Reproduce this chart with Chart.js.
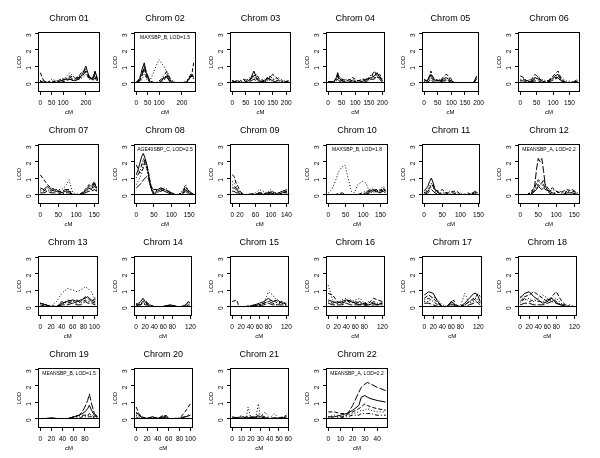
<!DOCTYPE html>
<html>
<head>
<meta charset="utf-8">
<script src="https://cdn.jsdelivr.net/npm/chart.js@4.4.1/dist/chart.umd.min.js"></script>
<style>
  body { margin: 0; background: #fff; width: 600px; height: 458px; position: relative; overflow: hidden; }
  canvas { position: absolute; }
</style>
</head>
<body>
<script>
// LOD scores per chromosome, one row per phenotype
const chr01Pos = [0, 15, 30, 50, 70, 90, 110, 130, 150, 170, 185, 200, 215, 230, 240, 252];
const chr01Lod = [
  [0.1, 0, 0, 0, 0, 0.1, 0.2, 0.2, 0.1, 0.2, 0.5, 1.0, 0.3, 0.2, 0.7, 0.2],
  [0.6, 0.1, 0, 0.1, 0, 0.2, 0.2, 0.3, 0.2, 0.4, 0.7, 0.6, 0.2, 0.3, 0.6, 0.1],
  [0.1, 0, 0, 0.2, 0.1, 0.2, 0.3, 0.6, 0.3, 0.2, 0.3, 0.5, 0.2, 0.2, 0.4, 0.1],
  [0.1, 0.1, 0, 0, 0.1, 0.1, 0.2, 0.4, 0.3, 0.3, 0.6, 0.8, 0.3, 0.2, 0.5, 0.2],
  [0.05, 0, 0, 0, 0, 0, 0.1, 0.2, 0.1, 0.3, 0.4, 0.7, 0.4, 0.1, 0.3, 0]
];
const chr01Ticks = [0, 50, 100, 200];

const chr02Pos = [0, 15, 25, 35, 45, 60, 75, 90, 100, 110, 125, 135, 150, 170, 200, 220, 235, 245, 252];
const chr02Lod = [
  [0, 0.2, 0.8, 1.2, 0.5, 0, 0, 0, 0, 0.1, 0.3, 0.4, 0, 0, 0, 0, 0.3, 0.5, 0.3],
  [0, 0.3, 0.6, 0.9, 0.3, 0, 0, 0, 0, 0, 0.2, 0.5, 0.1, 0, 0, 0, 0.4, 0.6, 1.2],
  [0, 0, 0.2, 0.5, 0.2, 0.1, 0.6, 1.1, 1.4, 1.2, 0.9, 0.6, 0.1, 0, 0, 0.1, 0.3, 0.4, 0.2],
  [0, 0.1, 0.5, 0.8, 0.4, 0.1, 0, 0, 0.1, 0.2, 0.5, 0.7, 0.2, 0, 0, 0, 0.2, 0.5, 0.4],
  [0, 0.1, 0.4, 1.0, 0.6, 0.1, 0, 0, 0, 0.1, 0.4, 0.3, 0, 0, 0, 0, 0.3, 0.4, 0.2]
];
const chr02Ticks = [0, 50, 100, 200];

const chr03Pos = [0, 20, 40, 60, 70, 80, 90, 100, 120, 130, 140, 150, 170, 190, 210];
const chr03Lod = [
  [0.1, 0, 0, 0.1, 0.3, 0.7, 0.3, 0.1, 0, 0.3, 0.2, 0.1, 0, 0, 0.1],
  [0.1, 0, 0.2, 0.1, 0.2, 0.4, 0.5, 0.2, 0.1, 0.2, 0.3, 0.5, 0.2, 0, 0],
  [0, 0, 0.1, 0.2, 0.4, 0.3, 0.2, 0.1, 0.2, 0.1, 0.2, 0.2, 0.3, 0.1, 0.1],
  [0.1, 0.1, 0, 0, 0.2, 0.5, 0.2, 0.1, 0, 0.2, 0.4, 0.2, 0.1, 0.1, 0],
  [0.05, 0, 0, 0, 0.1, 0.2, 0.1, 0, 0.1, 0.3, 0.1, 0, 0, 0, 0.1]
];
const chr03Ticks = [0, 50, 100, 150, 200];

const chr04Pos = [0, 20, 30, 35, 40, 50, 70, 90, 110, 130, 145, 160, 170, 180, 190, 200];
const chr04Lod = [
  [0.05, 0.05, 0.3, 0.6, 0.3, 0.1, 0, 0.1, 0, 0.1, 0.2, 0.3, 0.4, 0.6, 0.3, 0.1],
  [0.05, 0.05, 0.2, 0.4, 0.2, 0.2, 0.1, 0.3, 0.1, 0.2, 0.1, 0.4, 0.7, 0.4, 0.5, 0.2],
  [0, 0, 0.1, 0.3, 0.4, 0.2, 0.1, 0.2, 0, 0.1, 0.3, 0.2, 0.3, 0.5, 0.3, 0.1],
  [0.05, 0, 0.2, 0.5, 0.2, 0.1, 0.2, 0.1, 0.1, 0.2, 0.2, 0.5, 0.3, 0.3, 0.4, 0],
  [0, 0, 0.1, 0.2, 0.1, 0, 0, 0, 0, 0, 0.1, 0.2, 0.2, 0.4, 0.2, 0]
];
const chr04Ticks = [0, 50, 100, 150, 200];

const chr05Pos = [0, 10, 20, 25, 30, 40, 55, 70, 80, 90, 100, 110, 150, 182, 193];
const chr05Lod = [
  [0.1, 0.1, 0.3, 0.5, 0.3, 0.1, 0.1, 0.2, 0.3, 0.2, 0.1, 0, 0, 0, 0.4],
  [0.2, 0.1, 0.4, 0.7, 0.4, 0.2, 0.1, 0.3, 0.5, 0.4, 0.2, 0, 0, 0, 0.3],
  [0, 0.05, 0.2, 0.3, 0.2, 0.1, 0.2, 0.1, 0.2, 0.3, 0.1, 0, 0, 0, 0.1],
  [0.1, 0.05, 0.3, 0.4, 0.2, 0.2, 0.1, 0.1, 0.2, 0.1, 0.1, 0, 0, 0, 0.2],
  [0, 0, 0.1, 0.2, 0.1, 0, 0, 0.1, 0.1, 0.1, 0, 0, 0, 0, 0]
];
const chr05Ticks = [0, 50, 100, 150, 200];

const chr06Pos = [0, 10, 20, 35, 45, 55, 65, 80, 95, 105, 115, 125, 140, 160, 175];
const chr06Lod = [
  [0.1, 0.1, 0, 0.1, 0.3, 0.2, 0.1, 0, 0.2, 0.4, 0.5, 0.1, 0, 0, 0.1],
  [0.4, 0.3, 0.1, 0.2, 0.5, 0.3, 0.1, 0, 0.3, 0.5, 0.7, 0.2, 0, 0, 0.2],
  [0.2, 0.2, 0.1, 0.2, 0.3, 0.4, 0.2, 0.1, 0.2, 0.3, 0.4, 0.3, 0.1, 0.05, 0.1],
  [0.1, 0.2, 0.05, 0.1, 0.2, 0.3, 0.1, 0, 0.1, 0.3, 0.3, 0.1, 0, 0, 0.05],
  [0, 0, 0, 0.05, 0.1, 0.1, 0, 0, 0.1, 0.2, 0.3, 0.05, 0, 0, 0]
];
const chr06Ticks = [0, 50, 100, 150];

const chr07Pos = [0, 10, 20, 30, 40, 50, 60, 70, 80, 90, 110, 125, 135, 142, 150, 157];
const chr07Lod = [
  [0.4, 0.3, 0.5, 0.3, 0.2, 0.2, 0.1, 0.2, 0.2, 0, 0, 0.2, 0.4, 0.3, 0.7, 0.4],
  [1.2, 0.9, 0.6, 0.4, 0.3, 0.2, 0.2, 0.3, 0.2, 0, 0, 0.3, 0.6, 0.5, 0.8, 0.3],
  [0.2, 0.3, 0.2, 0.4, 0.3, 0.3, 0.3, 0.5, 0.9, 0.1, 0, 0.1, 0.3, 0.5, 0.6, 0.2],
  [0.3, 0.2, 0.4, 0.2, 0.3, 0.2, 0.1, 0.3, 0.3, 0, 0, 0.2, 0.5, 0.3, 0.5, 0.4],
  [0.1, 0.1, 0.2, 0.1, 0.1, 0.1, 0, 0.1, 0.1, 0, 0, 0.1, 0.2, 0.2, 0.3, 0.2]
];
const chr07Ticks = [0, 50, 100, 150];

const chr08Pos = [0, 5, 10, 15, 20, 25, 30, 35, 40, 45, 50, 60, 70, 80, 90, 100, 110, 120, 130, 140, 150, 163];
const chr08Lod = [
  [1.2, 1.5, 1.9, 2.3, 2.5, 2.2, 1.8, 1.2, 0.6, 0.2, 0, 0.2, 0.3, 0.2, 0.1, 0, 0, 0, 0, 0.3, 0.1, 0],
  [1.8, 1.6, 1.3, 1.4, 1.6, 2.1, 1.8, 1.3, 0.7, 0.3, 0.1, 0.3, 0.4, 0.3, 0.2, 0.1, 0, 0, 0.1, 0.4, 0.2, 0],
  [0.6, 0.8, 1.0, 1.3, 2.0, 1.9, 1.5, 1.0, 0.5, 0.2, 0.1, 0.2, 0.2, 0.4, 0.3, 0.1, 0, 0, 0.2, 0.6, 0.1, 0],
  [1.0, 1.2, 1.4, 1.8, 2.2, 2.0, 1.6, 1.1, 0.5, 0.1, 0, 0.1, 0.2, 0.3, 0.2, 0, 0, 0, 0.1, 0.5, 0.2, 0],
  [0.4, 0.5, 0.6, 0.7, 0.9, 1.0, 1.1, 0.9, 0.6, 0.4, 0.3, 0.3, 0.4, 0.3, 0.2, 0.1, 0, 0, 0, 0.2, 0, 0]
];
const chr08Ticks = [0, 50, 100, 150];

const chr09Pos = [0, 5, 10, 15, 20, 30, 40, 50, 60, 70, 80, 90, 100, 110, 120, 130, 142];
const chr09Lod = [
  [0.4, 0.4, 0.3, 0.2, 0, 0, 0, 0.05, 0, 0.1, 0, 0.1, 0.1, 0, 0.1, 0.2, 0.3],
  [1.2, 1.1, 0.7, 0.5, 0.2, 0, 0, 0, 0, 0.1, 0, 0, 0.2, 0.1, 0, 0.1, 0.2],
  [0.8, 0.7, 0.5, 0.3, 0.1, 0, 0, 0, 0.1, 0.3, 0.2, 0.1, 0.3, 0.1, 0.1, 0.2, 0.1],
  [0.6, 0.5, 0.4, 0.3, 0.1, 0, 0, 0, 0, 0.1, 0.1, 0, 0.2, 0, 0, 0.1, 0.2],
  [0.2, 0.2, 0.1, 0.1, 0, 0, 0, 0, 0, 0, 0, 0, 0.1, 0, 0, 0.1, 0.1]
];
const chr09Ticks = [0, 20, 60, 100, 140];

const chr10Pos = [0, 10, 20, 30, 40, 48, 56, 66, 75, 85, 98, 108, 118, 128, 138, 148, 158, 165];
const chr10Lod = [
  [0, 0, 0, 0, 0, 0, 0, 0, 0, 0, 0, 0, 0.1, 0.3, 0.2, 0.1, 0.3, 0.2],
  [0, 0, 0, 0.05, 0.1, 0, 0, 0, 0, 0, 0, 0.1, 0.3, 0.2, 0.3, 0.2, 0.4, 0.2],
  [0.1, 0.3, 0.8, 1.4, 1.7, 1.8, 1.1, 0.2, 0.1, 0.6, 0.8, 0.7, 0.2, 0.1, 0.2, 0.3, 0.5, 0.3],
  [0, 0, 0, 0, 0, 0, 0, 0, 0, 0, 0.1, 0.2, 0.2, 0.4, 0.1, 0.3, 0.2, 0.4],
  [0, 0, 0, 0, 0, 0, 0, 0, 0, 0, 0, 0, 0.2, 0.2, 0.3, 0.1, 0.2, 0.1]
];
const chr10Ticks = [0, 50, 100, 150];

const chr11Pos = [0, 10, 15, 20, 25, 30, 40, 50, 60, 70, 80, 90, 100, 110, 120, 130, 140, 148];
const chr11Lod = [
  [0.2, 0.5, 0.8, 1.0, 0.7, 0.3, 0.1, 0, 0, 0, 0, 0, 0, 0, 0, 0, 0.1, 0.1],
  [0.1, 0.2, 0.4, 0.6, 0.5, 0.3, 0.2, 0.3, 0.1, 0.1, 0.2, 0.2, 0, 0, 0.1, 0, 0.2, 0.2],
  [0.1, 0.3, 0.5, 0.7, 0.4, 0.2, 0.1, 0.1, 0.1, 0.2, 0.1, 0.1, 0.1, 0, 0, 0.1, 0.1, 0],
  [0, 0.2, 0.3, 0.5, 0.6, 0.3, 0.1, 0, 0.1, 0, 0.1, 0, 0, 0, 0, 0, 0.1, 0.2],
  [0, 0.1, 0.2, 0.3, 0.2, 0.1, 0, 0, 0, 0, 0, 0, 0, 0, 0, 0, 0, 0]
];
const chr11Ticks = [0, 50, 100, 150];

const chr12Pos = [0, 20, 30, 40, 45, 50, 55, 60, 65, 70, 80, 90, 100, 110, 120, 130, 145, 160];
const chr12Lod = [
  [0, 0, 0, 0.2, 0.3, 0.5, 0.4, 0.3, 0.4, 0.3, 0.2, 0.1, 0, 0, 0, 0.1, 0.1, 0],
  [0, 0, 0.2, 0.4, 0.7, 0.9, 0.8, 0.7, 0.9, 0.6, 0.3, 0.4, 0.2, 0.1, 0.2, 0.3, 0.2, 0.1],
  [0, 0, 0.1, 0.3, 0.5, 0.8, 0.7, 0.6, 0.5, 0.4, 0.2, 0.1, 0.1, 0.2, 0.1, 0.2, 0.1, 0],
  [0, 0, 0.1, 0.2, 0.4, 0.6, 0.5, 0.7, 0.6, 0.3, 0.2, 0.3, 0.2, 0.1, 0, 0.2, 0.3, 0.1],
  [0, 0, 0, 0.5, 1.5, 2.2, 2.0, 2.2, 1.4, 0.5, 0.1, 0, 0, 0, 0, 0, 0, 0]
];
const chr12Ticks = [0, 50, 100, 150];

const chr13Pos = [0, 10, 20, 30, 40, 50, 60, 68, 75, 83, 88, 94, 102];
const chr13Lod = [
  [0.2, 0.1, 0, 0, 0.2, 0.3, 0.4, 0.3, 0.4, 0.5, 0.6, 0.4, 0.3],
  [0.2, 0.1, 0, 0, 0.1, 0.4, 0.3, 0.2, 0.3, 0.6, 0.5, 0.3, 0.5],
  [0.2, 0.1, 0, 0.3, 0.8, 1.1, 1.0, 0.9, 1.0, 1.2, 1.1, 0.9, 0.4],
  [0.2, 0.1, 0.05, 0, 0.3, 0.2, 0.3, 0.4, 0.2, 0.4, 0.3, 0.3, 0.2],
  [0.1, 0, 0, 0, 0.1, 0.1, 0.2, 0.1, 0.1, 0.3, 0.2, 0.2, 0.1]
];
const chr13Ticks = [0, 20, 40, 60, 80, 100];

const chr14Pos = [0, 5, 10, 15, 20, 25, 30, 40, 60, 75, 90, 100, 110, 115, 119];
const chr14Lod = [
  [0.1, 0.2, 0.3, 0.5, 0.3, 0.1, 0, 0, 0, 0.1, 0, 0, 0.1, 0.3, 0.2],
  [0.1, 0.1, 0.2, 0.3, 0.4, 0.2, 0.1, 0, 0, 0.05, 0, 0, 0, 0.1, 0.1],
  [0.2, 0.1, 0.2, 0.2, 0.2, 0.1, 0.1, 0, 0, 0, 0, 0, 0.1, 0.2, 0.3],
  [0.1, 0.1, 0.1, 0.3, 0.2, 0.2, 0.1, 0, 0, 0.1, 0, 0, 0, 0.1, 0],
  [0, 0.1, 0.1, 0.2, 0.1, 0.1, 0, 0, 0, 0, 0, 0, 0, 0, 0]
];
const chr14Ticks = [0, 20, 40, 60, 80, 120];

const chr15Pos = [0, 10, 15, 30, 40, 50, 60, 70, 80, 90, 100, 110, 120];
const chr15Lod = [
  [0, 0, 0, 0, 0, 0.1, 0.2, 0.3, 0.5, 0.3, 0.4, 0.2, 0.2],
  [0.3, 0.4, 0, 0, 0.05, 0.1, 0.1, 0.2, 0.3, 0.4, 0.2, 0.3, 0.1],
  [0, 0, 0, 0, 0.05, 0.05, 0.1, 0.2, 0.9, 0.7, 0.3, 0.2, 0.1],
  [0, 0, 0, 0, 0, 0.05, 0.1, 0.2, 0.3, 0.2, 0.1, 0.3, 0.2],
  [0, 0, 0, 0, 0, 0, 0.05, 0.1, 0.2, 0.1, 0.1, 0.1, 0.05]
];
const chr15Ticks = [0, 20, 40, 60, 80, 120];

const chr16Pos = [0, 10, 20, 30, 40, 50, 60, 70, 80, 90, 100, 110, 120];
const chr16Lod = [
  [0.4, 0.3, 0.2, 0.3, 0.4, 0.3, 0.2, 0.1, 0.2, 0.1, 0.2, 0.1, 0.2],
  [0.8, 0.7, 0.3, 0.2, 0.3, 0.4, 0.2, 0.3, 0.1, 0.2, 0.5, 0.4, 0.3],
  [1.3, 0.4, 0.2, 0.4, 0.5, 0.3, 0.4, 0.5, 0.2, 0.3, 0.2, 0.1, 0.3],
  [0.3, 0.2, 0.3, 0.2, 0.4, 0.2, 0.3, 0.2, 0.2, 0.1, 0.3, 0.2, 0.2],
  [0.2, 0.1, 0.1, 0.1, 0.2, 0.1, 0.1, 0.1, 0.1, 0, 0.1, 0.1, 0.1]
];
const chr16Ticks = [0, 20, 40, 60, 80, 120];

const chr17Pos = [0, 10, 20, 30, 40, 50, 60, 65, 70, 80, 90, 100, 110, 115, 120, 124];
const chr17Lod = [
  [0.7, 0.9, 0.8, 0.3, 0, 0, 0.3, 0.2, 0, 0, 0.2, 0.5, 0.8, 0.8, 0.6, 0.3],
  [0.5, 0.7, 0.5, 0.2, 0, 0, 0.2, 0.4, 0.1, 0, 0.1, 0.3, 0.5, 0.6, 0.8, 0.6],
  [0.3, 0.3, 0.6, 0.4, 0.1, 0, 0.1, 0.2, 0.1, 0, 0.8, 0.2, 0.3, 0.4, 0.3, 0.2],
  [0.4, 0.5, 0.3, 0.1, 0, 0, 0.3, 0.1, 0, 0, 0.1, 0.3, 0.4, 0.5, 0.4, 0.2],
  [0.2, 0.2, 0.1, 0, 0, 0, 0.1, 0.1, 0, 0, 0, 0.1, 0.2, 0.3, 0.2, 0.1]
];
const chr17Ticks = [0, 20, 40, 60, 80, 120];

const chr18Pos = [0, 10, 20, 30, 40, 50, 60, 70, 80, 90, 100, 110, 120];
const chr18Lod = [
  [0.5, 0.8, 0.9, 0.6, 0.4, 0.2, 0.3, 0.5, 0.2, 0.1, 0, 0, 0],
  [0.3, 0.6, 0.7, 0.9, 0.7, 0.5, 0.3, 0.6, 0.9, 0.4, 0.1, 0, 0],
  [0.6, 0.4, 0.5, 0.3, 0.5, 0.7, 0.5, 0.3, 0.5, 0.2, 0, 0.1, 0],
  [0.2, 0.5, 0.3, 0.4, 0.3, 0.3, 0.4, 0.5, 0.3, 0.1, 0.1, 0, 0],
  [0.1, 0.2, 0.2, 0.1, 0.1, 0.1, 0.2, 0.3, 0.2, 0.1, 0, 0, 0]
];
const chr18Ticks = [0, 20, 40, 60, 80, 120];

const chr19Pos = [0, 10, 20, 30, 40, 50, 60, 70, 75, 80, 85, 88, 92, 97, 103];
const chr19Lod = [
  [0, 0, 0.05, 0, 0, 0, 0.1, 0.2, 0.3, 0.4, 0.6, 0.8, 0.5, 0.2, 0.1],
  [0, 0, 0, 0, 0, 0, 0.1, 0.2, 0.2, 0.2, 0.2, 0.3, 0.2, 0.1, 0.2],
  [0, 0, 0, 0, 0, 0, 0.05, 0.1, 0.1, 0.2, 0.2, 0.2, 0.1, 0.05, 0.1],
  [0, 0, 0, 0, 0, 0, 0, 0, 0.1, 0.1, 0.1, 0.1, 0.1, 0, 0],
  [0, 0, 0, 0, 0, 0, 0.1, 0.2, 0.4, 0.7, 1.1, 1.5, 0.9, 0.3, 0.1]
];
const chr19Ticks = [0, 20, 40, 60, 80];

const chr20Pos = [0, 5, 10, 20, 30, 40, 50, 55, 60, 70, 80, 90, 100];
const chr20Lod = [
  [0.4, 0.2, 0.1, 0, 0.1, 0, 0.1, 0.2, 0, 0, 0, 0.1, 0.2],
  [0.7, 0.3, 0.1, 0, 0.1, 0, 0.2, 0.1, 0, 0, 0, 0.4, 0.9],
  [0.2, 0.1, 0, 0, 0.05, 0, 0.1, 0.1, 0, 0, 0, 0.1, 0.3],
  [0.3, 0.2, 0.05, 0, 0.1, 0, 0.1, 0, 0, 0, 0.05, 0.1, 0.1],
  [0.1, 0, 0, 0, 0, 0, 0.05, 0, 0, 0, 0, 0, 0]
];
const chr20Ticks = [0, 20, 40, 60, 80, 100];

const chr21Pos = [0, 5, 10, 15, 17, 20, 25, 28, 30, 35, 40, 45, 50, 55, 58];
const chr21Lod = [
  [0.1, 0.05, 0.1, 0.05, 0.05, 0.05, 0.1, 0.1, 0.1, 0.05, 0, 0.05, 0, 0.05, 0.1],
  [0.05, 0, 0, 0.1, 0.1, 0.1, 0.1, 0.2, 0.2, 0.1, 0, 0, 0.05, 0.1, 0.2],
  [0, 0, 0.2, 0, 0.7, 0, 0, 0.9, 0.1, 0.4, 0, 0.3, 0, 0, 0.3],
  [0, 0.05, 0.05, 0, 0, 0.05, 0.05, 0.1, 0.05, 0, 0, 0, 0, 0.05, 0.1],
  [0, 0, 0, 0, 0, 0, 0, 0, 0, 0, 0, 0, 0, 0, 0]
];
const chr21Ticks = [0, 10, 20, 30, 40, 50, 60];

const chr22Pos = [0, 5, 10, 15, 20, 25, 27, 30, 32, 35, 40, 47];
const chr22Lod = [
  [0.1, 0.1, 0.2, 0.3, 0.5, 0.8, 1.3, 1.4, 1.3, 1.2, 1.1, 1.0],
  [0.4, 0.4, 0.3, 0.3, 0.4, 0.6, 0.7, 0.9, 0.8, 0.7, 0.6, 0.5],
  [0.1, 0.2, 0.1, 0.2, 0.3, 0.4, 0.5, 0.5, 0.6, 0.5, 0.4, 0.4],
  [0.1, 0, 0.1, 0.1, 0.2, 0.2, 0.3, 0.3, 0.3, 0.3, 0.2, 0.2],
  [0, 0, 0, 0.2, 0.8, 1.6, 1.9, 2.1, 2.2, 2.1, 1.9, 1.7]
];
const chr22Ticks = [0, 10, 20, 30, 40];

const chromNames = ['Chrom 01', 'Chrom 02', 'Chrom 03', 'Chrom 04', 'Chrom 05', 'Chrom 06',
  'Chrom 07', 'Chrom 08', 'Chrom 09', 'Chrom 10', 'Chrom 11', 'Chrom 12',
  'Chrom 13', 'Chrom 14', 'Chrom 15', 'Chrom 16', 'Chrom 17', 'Chrom 18',
  'Chrom 19', 'Chrom 20', 'Chrom 21', 'Chrom 22'];
const peakNotes = ['', 'MAXSBP_B, LOD=1.5', '', '', '', '',
  '', 'AGE40SBP_C, LOD=2.5', '', 'MAXSBP_B, LOD=1.8', '', 'MEANSBP_A, LOD=2.2',
  '', '', '', '', '', '',
  'MEANSBP_B, LOD=1.5', '', '', 'MEANSBP_A, LOD=2.2'];
const lodTicks = [0, 1, 2, 3];

const allPos = [chr01Pos, chr02Pos, chr03Pos, chr04Pos, chr05Pos, chr06Pos, chr07Pos, chr08Pos,
  chr09Pos, chr10Pos, chr11Pos, chr12Pos, chr13Pos, chr14Pos, chr15Pos, chr16Pos, chr17Pos,
  chr18Pos, chr19Pos, chr20Pos, chr21Pos, chr22Pos];
const allLod = [chr01Lod, chr02Lod, chr03Lod, chr04Lod, chr05Lod, chr06Lod, chr07Lod, chr08Lod,
  chr09Lod, chr10Lod, chr11Lod, chr12Lod, chr13Lod, chr14Lod, chr15Lod, chr16Lod, chr17Lod,
  chr18Lod, chr19Lod, chr20Lod, chr21Lod, chr22Lod];
const allTicks = [chr01Ticks, chr02Ticks, chr03Ticks, chr04Ticks, chr05Ticks, chr06Ticks,
  chr07Ticks, chr08Ticks, chr09Ticks, chr10Ticks, chr11Ticks, chr12Ticks, chr13Ticks,
  chr14Ticks, chr15Ticks, chr16Ticks, chr17Ticks, chr18Ticks, chr19Ticks, chr20Ticks,
  chr21Ticks, chr22Ticks];

// line types like R's lty 1..5
const dashStyles = [[], [4, 2], [1, 2], [1, 2, 4, 2], [7, 2]];
const FONT = '"Liberation Sans", Arial, sans-serif';

// box round the plot, panel title and the peak note
const panelDecor = {
  id: 'panelDecor',
  afterDraw(chart, args, opts) {
    const { ctx, chartArea: a } = chart;
    const cx = (a.left + a.right) / 2;
    ctx.save();
    ctx.strokeStyle = '#000';
    ctx.lineWidth = 1;
    ctx.setLineDash([]);
    ctx.strokeRect(Math.round(a.left) + 0.5, Math.round(a.top) + 0.5,
      Math.round(a.width) - 1, Math.round(a.height) - 1);
    ctx.fillStyle = '#000';
    ctx.textAlign = 'center';
    ctx.textBaseline = 'middle';
    ctx.font = '9px ' + FONT;
    ctx.fillText(opts.title, cx, a.top - 13);
    if (opts.note) {
      ctx.font = '5px ' + FONT;
      ctx.fillText(opts.note, cx, a.top + 6);
    }
    ctx.restore();
  }
};

chromNames.forEach((name, i) => {
  const col = i % 6;
  const row = Math.floor(i / 6);
  const canvas = document.createElement('canvas');
  canvas.width = 104;
  canvas.height = 120;
  canvas.style.left = (col * 96) + 'px';
  canvas.style.top = (row * 112) + 'px';
  document.body.appendChild(canvas);

  const pos = allPos[i];
  const span = pos[pos.length - 1] - pos[0];
  const xTicks = allTicks[i];

  new Chart(canvas.getContext('2d'), {
    type: 'line',
    data: {
      datasets: allLod[i].map((vals, k) => ({
        data: vals.map((v, j) => ({ x: pos[j], y: v })),
        borderColor: '#000',
        borderWidth: 1,
        borderDash: dashStyles[k % dashStyles.length],
        pointRadius: 0,
        tension: 0,
        fill: false
      }))
    },
    options: {
      responsive: false,
      animation: false,
      devicePixelRatio: 1,
      events: [],
      layout: { padding: { top: 32, right: 4, left: 0, bottom: 0 } },
      scales: {
        x: {
          type: 'linear',
          min: pos[0] - span * 0.04,
          max: pos[pos.length - 1] + span * 0.04,
          afterBuildTicks: s => { s.ticks = xTicks.map(v => ({ value: v })); },
          afterFit: s => { s.height = 28; },
          border: { display: false },
          grid: { display: true, drawOnChartArea: false, tickLength: 3, tickColor: '#000' },
          ticks: { autoSkip: false, maxRotation: 0, padding: 4, color: '#000',
                   font: { family: FONT, size: 6.5 } },
          title: { display: true, text: 'cM', color: '#000', padding: { top: 0, bottom: 4 },
                   font: { family: FONT, size: 6 } }
        },
        y: {
          min: -0.58,
          max: 3.08,
          afterBuildTicks: s => { s.ticks = lodTicks.map(v => ({ value: v })); },
          afterFit: s => { s.width = 38; },
          border: { display: false },
          grid: {
            color: c => (c.tick && c.tick.value === 0 ? '#000' : 'rgba(0,0,0,0)'),
            tickColor: '#000',
            tickLength: 3
          },
          ticks: { minRotation: 90, maxRotation: 90, padding: 6, color: '#000',
                   font: { family: FONT, size: 6.5 } },
          title: { display: true, text: 'LOD', color: '#000', padding: { top: 16, bottom: 0 },
                   font: { family: FONT, size: 6 } }
        }
      },
      plugins: {
        legend: { display: false },
        tooltip: { enabled: false },
        panelDecor: { title: name, note: peakNotes[i] }
      }
    },
    plugins: [panelDecor]
  });
});
</script>
</body>
</html>
